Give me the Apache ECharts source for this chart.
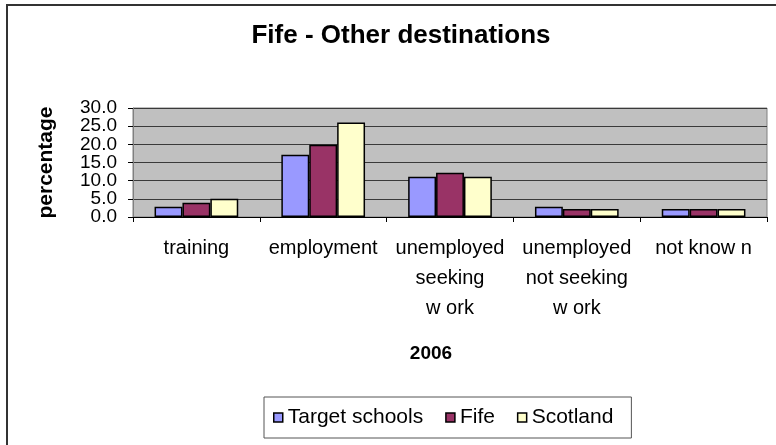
<!DOCTYPE html>
<html>
<head>
<meta charset="utf-8">
<script src="https://cdn.jsdelivr.net/npm/echarts@6/dist/echarts.min.js"></script>
<style>
  html, body { margin: 0; padding: 0; background: #fff; }
  #chart { width: 776px; height: 445px; }
</style>
</head>
<body>
<div id="chart"></div>
<script>
// Destination categories (label text as rendered on the axis)
const categories = ['training', 'employment', 'unemployed\nseeking\nw ork', 'unemployed\nnot seeking\nw ork', 'not know n'];

// Percentage of leavers per destination
const targetSchools = [2.8, 17.1, 11.1, 2.8, 2.2];
const fife          = [3.9, 19.9, 12.2, 2.2, 2.2];
const scotland      = [5.0, 26.0, 11.1, 2.2, 2.2];

const seriesNames = ['Target schools', 'Fife', 'Scotland'];
const seriesColors = ['#9999FF', '#993366', '#FFFFCC'];

// Percentage scale: 0 to 30 in steps of 5
const yTicks = { min: 0, max: 30, interval: 5 };

const FONT = '"Liberation Sans", Arial, sans-serif';

const chart = echarts.init(document.getElementById('chart'), null, { renderer: 'canvas' });

function barSeries(name, data, color) {
  return {
    name: name,
    type: 'bar',
    data: data,
    yAxisIndex: 0,
    barGap: '0%',
    barCategoryGap: '34%',
    itemStyle: { color: color, borderColor: '#000', borderWidth: 1.5 }
  };
}

const tickLabelStyle = { margin: 16, color: '#000', fontFamily: FONT, fontSize: 19 };

chart.setOption({
  animation: false,
  backgroundColor: '#fff',
  textStyle: { fontFamily: FONT },
  title: [
    {
      text: 'Fife - Other destinations',
      left: 396, top: 18, textAlign: 'center',
      textStyle: { fontFamily: FONT, fontSize: 26, fontWeight: 'bold', color: '#000' }
    },
    {
      text: '2006',
      left: 426, top: 339, textAlign: 'center',
      textStyle: { fontFamily: FONT, fontSize: 19, fontWeight: 'bold', color: '#000' }
    }
  ],
  graphic: [
    {
      type: 'polyline',
      shape: { points: [[7, 460], [7, 5], [800, 5]] },
      style: { stroke: '#333', lineWidth: 2, fill: null }
    }
  ],
  legend: {
    data: seriesNames,
    left: 264, top: 397,
    padding: [10, 18, 10, 9],
    borderColor: '#555', borderWidth: 1,
    icon: 'rect', itemWidth: 9, itemHeight: 9, itemGap: 22,
    itemStyle: { borderColor: '#000', borderWidth: 1.5 },
    textStyle: { fontFamily: FONT, fontSize: 21, color: '#000' }
  },
  grid: {
    left: 133, right: 9, top: 108, bottom: 228,
    show: true, backgroundColor: '#C0C0C0', borderColor: '#808080', borderWidth: 1,
    containLabel: false
  },
  xAxis: {
    type: 'category',
    data: categories,
    axisLine: { show: true, lineStyle: { color: '#000', width: 1 } },
    axisTick: { show: true, length: 5, alignWithLabel: false, lineStyle: { color: '#000' } },
    axisLabel: {
      interval: 0, margin: 16, color: '#000',
      fontFamily: FONT, fontSize: 20, lineHeight: 30, align: 'center'
    }
  },
  yAxis: [
    {
      // main scale: gridlines, ticks and the labels at multiples of 10
      type: 'value', position: 'left',
      min: yTicks.min, max: yTicks.max, interval: yTicks.interval,
      name: 'percentage',
      nameLocation: 'middle', nameGap: 76, nameRotate: 90,
      nameTextStyle: { fontFamily: FONT, fontSize: 21, fontWeight: 'bold', color: '#000' },
      axisLine: { show: true, lineStyle: { color: '#808080', width: 1 } },
      axisTick: { show: true, length: 5, inside: false, lineStyle: { color: '#000' } },
      axisLabel: Object.assign({}, tickLabelStyle, {
        showMinLabel: true, showMaxLabel: true,
        formatter: v => (v % 10 === 0 ? v.toFixed(1) : '')
      }),
      splitLine: { show: true, lineStyle: { color: '#3a3a3a', width: 1 } }
    },
    {
      // same scale, carrying the labels at odd multiples of 5
      type: 'value', position: 'left', offset: 0,
      min: yTicks.min, max: yTicks.max, interval: yTicks.interval,
      axisLine: { show: false },
      axisTick: { show: false },
      splitLine: { show: false },
      axisLabel: Object.assign({}, tickLabelStyle, {
        showMinLabel: false, showMaxLabel: false,
        formatter: v => (v % 10 !== 0 ? v.toFixed(1) : '')
      })
    }
  ],
  series: [
    barSeries(seriesNames[0], targetSchools, seriesColors[0]),
    barSeries(seriesNames[1], fife, seriesColors[1]),
    barSeries(seriesNames[2], scotland, seriesColors[2])
  ]
});
</script>
</body>
</html>
